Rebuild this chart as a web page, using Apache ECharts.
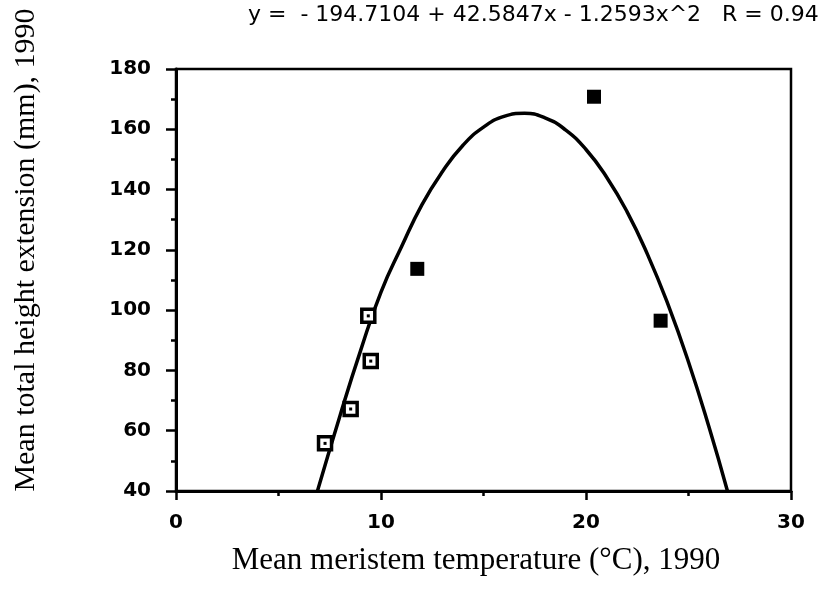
<!DOCTYPE html>
<html>
<head>
<meta charset="utf-8">
<script src="https://cdn.jsdelivr.net/npm/echarts@6/dist/echarts.min.js"></script>
<style>
html,body{margin:0;padding:0;background:#fff;}
#chart{width:825px;height:589px;}
</style>
</head>
<body>
<div id="chart"></div>
<script>
// Data
const openX = [7.27, 8.52, 9.5, 9.38];
const openY = [55.8, 67.2, 83.1, 98.1];
const filledX = [11.77, 20.39, 23.64];
const filledY = [113.7, 170.8, 96.5];
// fitted curve as traced on the picture
const curveX = [6.9, 8, 9, 10, 11, 12, 13, 14, 15, 16, 17, 18, 19, 20, 21, 22, 23, 24, 25, 26, 26.9];
const curveY = [40, 65, 86.5, 106, 121, 135, 146, 154.7, 160.7, 164.3, 165.3, 163.8, 159.8, 153.3, 144.2, 132.7, 118.5, 101.9, 82.8, 61.2, 40];
const xTicks = [0, 10, 20, 30];
const yTicks = [40, 60, 80, 100, 120, 140, 160, 180];
const equationText = 'y =  - 194.7104 + 42.5847x - 1.2593x^2   R = 0.94';
const xTitle = 'Mean meristem temperature (\u00B0C), 1990';
const yTitle = 'Mean total height extension (mm), 1990';

const zip = (a, b) => a.map((v, i) => [v, b[i]]);

const chart = echarts.init(document.getElementById('chart'), null, {renderer: 'canvas'});
const tickFont = {fontFamily: 'DejaVu Sans', fontSize: 20, fontWeight: 'bold', color: '#000'};
chart.setOption({
  animation: false,
  backgroundColor: '#fff',
  grid: {left: 176, right: 34, top: 69, bottom: 98, show: true, borderColor: '#000', borderWidth: 2.5, backgroundColor: 'transparent'},
  xAxis: {
    type: 'value', min: xTicks[0], max: xTicks[xTicks.length - 1], interval: 10,
    axisLine: {lineStyle: {color: '#000', width: 3}},
    axisTick: {show: true, length: 9, lineStyle: {color: '#000', width: 2.5}},
    minorTick: {show: true, splitNumber: 2, length: 5, lineStyle: {color: '#000', width: 2.5}},
    splitLine: {show: false},
    axisLabel: Object.assign({margin: 22}, tickFont)
  },
  yAxis: {
    type: 'value', min: yTicks[0], max: yTicks[yTicks.length - 1], interval: 20,
    axisLine: {onZero: false, lineStyle: {color: '#000', width: 3}},
    axisTick: {show: true, length: 10, lineStyle: {color: '#000', width: 2.5}},
    minorTick: {show: true, splitNumber: 2, length: 5, lineStyle: {color: '#000', width: 2.5}},
    splitLine: {show: false},
    axisLabel: Object.assign({margin: 25}, tickFont)
  },
  graphic: [
    {type: 'text', left: 248, top: 4, style: {text: equationText, font: '22px "DejaVu Sans"', fill: '#000'}},
    {type: 'text', x: 476, y: 561, style: {text: xTitle, font: '31px "Liberation Serif"', fill: '#000', align: 'center', verticalAlign: 'middle'}},
    {type: 'text', x: 26, y: 250, rotation: Math.PI / 2, style: {text: yTitle, font: '30px "Liberation Serif"', fill: '#000', align: 'center', verticalAlign: 'middle'}}
  ],
  series: [
    {type: 'line', data: zip(curveX, curveY), smooth: true, showSymbol: false, symbol: 'none',
     lineStyle: {color: '#000', width: 3.5}, z: 2},
    {type: 'scatter', data: zip(openX, openY), symbol: 'rect', symbolSize: 13,
     itemStyle: {color: '#fff', borderColor: '#000', borderWidth: 3.5, opacity: 1}, z: 3},
    {type: 'scatter', data: zip(openX, openY), symbol: 'rect', symbolSize: 3,
     itemStyle: {color: '#000', opacity: 1}, z: 4},
    {type: 'scatter', data: zip(filledX, filledY), symbol: 'rect', symbolSize: 14,
     itemStyle: {color: '#000', opacity: 1}, z: 3}
  ]
});
</script>
</body>
</html>
